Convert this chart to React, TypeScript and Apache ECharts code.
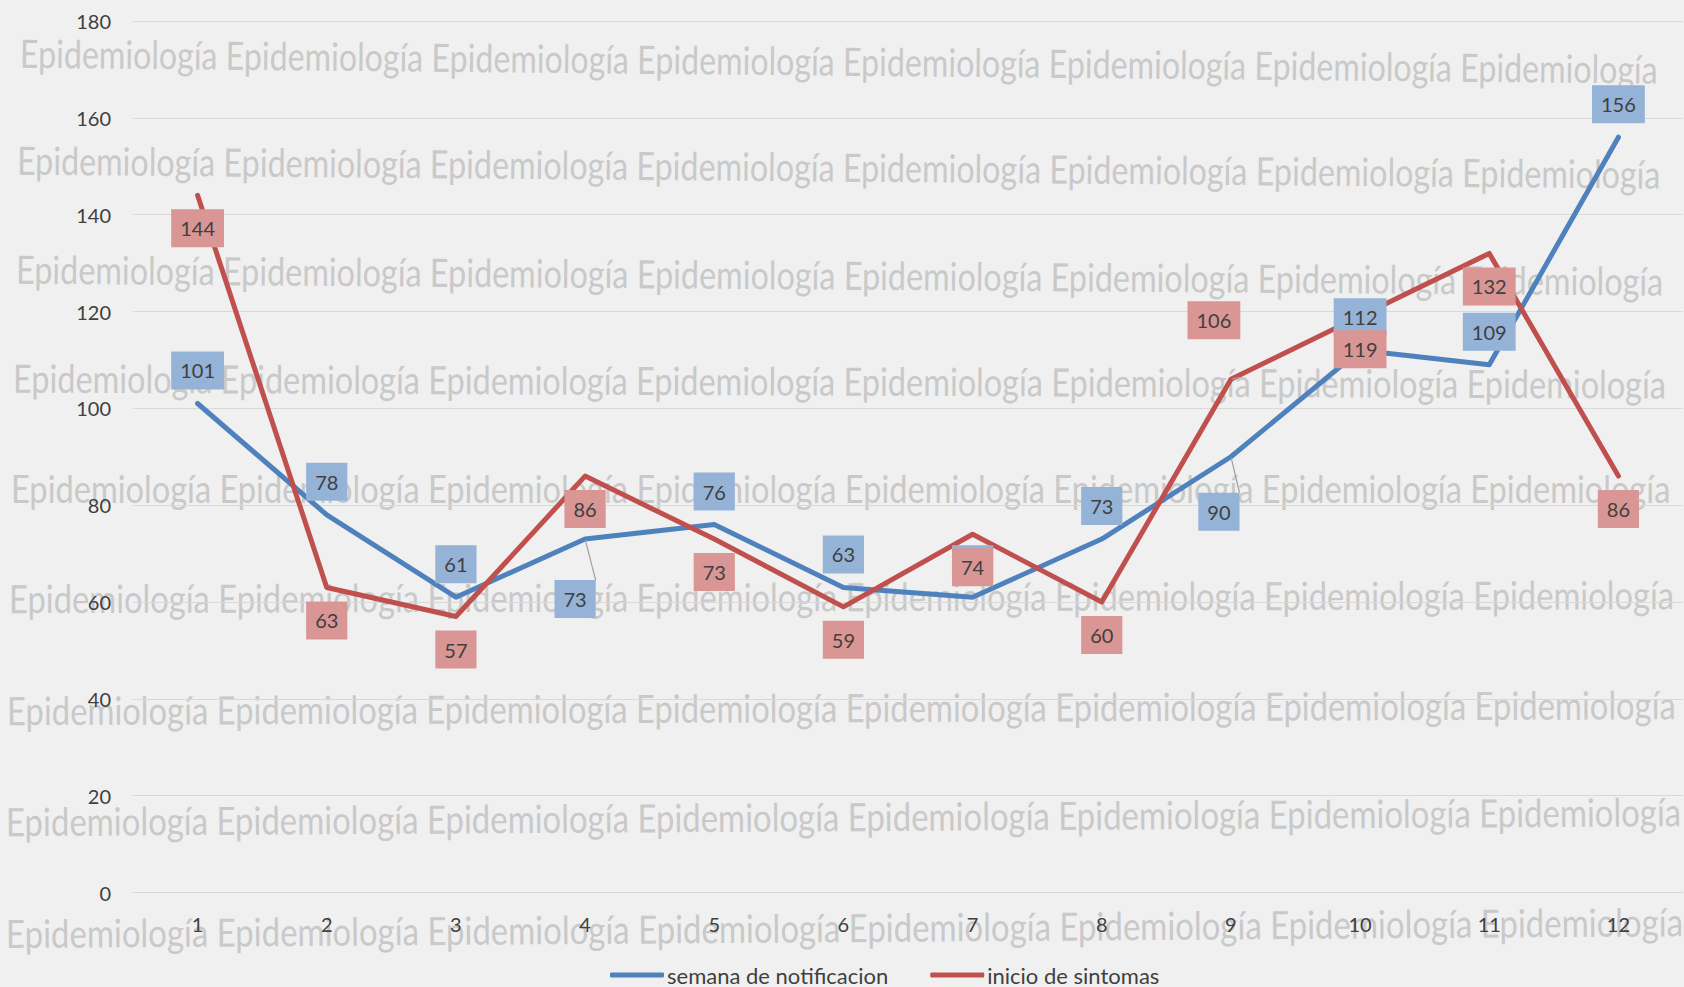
import React, { useEffect, useRef } from "react";
import * as echarts from "echarts";

// ---- data ----
const categories = ["1", "2", "3", "4", "5", "6", "7", "8", "9", "10", "11", "12"];
const semanaNotificacion = [101, 78, 61, 73, 76, 63, 61, 73, 90, 112, 109, 156];
const inicioSintomas = [144, 63, 57, 86, 73, 59, 74, 60, 106, 119, 132, 86];
const seriesNames = ["semana de notificacion", "inicio de sintomas"];
const yMin = 0;
const yMax = 180;
const yInterval = 20;
const watermarkWord = "Epidemiología";

// ---- label placement (style) ----
const notifLabelPos = ["top", "top", "top", "bottom", "top", "top", "top", "top", "bottom", "top", "top", "top"];
const notifLabelShift: Record<number, number[]> = { 3: [-10, 27], 8: [-12, 22] };
const sintLabelPos = ["bottom", "bottom", "bottom", "bottom", "bottom", "bottom", "bottom", "bottom", "top", "bottom", "bottom", "bottom"];
const sintLabelShift: Record<number, number[]> = { 8: [-17, -26] };

// ---- watermark rows layout: [startX, startY, endX, endY] ----
const watermarkRows = [
  [20, 53, 1657, 69],
  [17, 160, 1661, 173],
  [16, 269, 1664, 280],
  [13, 378, 1667, 384],
  [11, 488, 1671, 488],
  [9, 598, 1674, 595],
  [7, 710, 1677, 704],
  [6, 821, 1681, 812],
  [6, 933, 1683, 922],
];

const FONT = "Lato";
const BLUE = "#4f81bd";
const RED = "#c0504d";
const BLUE_BOX = "#95b3d7";
const RED_BOX = "#d99694";

function buildItems(values: number[], pos: string[], shift: Record<number, number[]>) {
  return values.map((v, i) => {
    const item: any = {
      value: v,
      label: { position: pos[i] },
    };
    if (shift[i]) {
      item.label.offset = shift[i];
      item.labelLine = { show: true };
    }
    return item;
  });
}

export default function App() {
  const ref = useRef<HTMLDivElement>(null);

  useEffect(() => {
    if (!ref.current) return;
    const chart = echarts.init(ref.current, undefined, { renderer: "svg" });

    const wmFontSize = 39;
    const rowText = Array(8).fill(watermarkWord).join(" ");
    const ctx = document.createElement("canvas").getContext("2d")!;
    ctx.font = `${wmFontSize}px ${FONT}`;
    const measured = ctx.measureText(rowText).width || 2000;

    const graphics = watermarkRows.map(([x0, y0, x1, y1]) => {
      const len = Math.hypot(x1 - x0, y1 - y0);
      return {
        type: "text",
        x: x0,
        y: y0,
        rotation: -Math.atan2(y1 - y0, x1 - x0),
        scaleX: len / measured,
        z: -10,
        silent: true,
        style: {
          text: rowText,
          fontFamily: FONT,
          fontSize: wmFontSize,
          fill: "#c9c9c9",
          align: "left",
          verticalAlign: "middle",
        },
      };
    });

    const labelCommon = {
      show: true,
      distance: 13,
      color: "#404040",
      fontFamily: FONT,
      fontSize: 20,
      lineHeight: 20,
      padding: [9, 9, 9, 9],
    };

    chart.setOption({
      animation: false,
      backgroundColor: "#f0f0f0",
      textStyle: { fontFamily: FONT },
      graphic: graphics,
      grid: {
        left: 133,
        right: 1,
        top: 21,
        bottom: 94.5,
        outerBoundsMode: "none",
      },
      legend: {
        data: seriesNames,
        left: 610,
        top: 963,
        padding: 0,
        icon: "roundRect",
        itemWidth: 54,
        itemHeight: 5,
        itemGap: 42,
        textStyle: { fontFamily: FONT, fontSize: 22, lineHeight: 24, color: "#404040", padding: [0, 0, 0, -2] },
      },
      xAxis: {
        type: "category",
        data: categories,
        boundaryGap: true,
        axisLine: { show: true, lineStyle: { color: "#d9d9d9", width: 1 } },
        axisTick: { show: false },
        axisLabel: { color: "#404040", fontFamily: FONT, fontSize: 20, margin: 21 },
        splitLine: { show: false },
      },
      yAxis: {
        type: "value",
        min: yMin,
        max: yMax,
        interval: yInterval,
        axisLine: { show: false },
        axisTick: { show: false },
        axisLabel: { color: "#404040", fontFamily: FONT, fontSize: 20, margin: 22 },
        splitLine: { show: true, lineStyle: { color: "#d9d9d9", width: 1 } },
      },
      series: [
        {
          name: seriesNames[0],
          type: "line",
          data: buildItems(semanaNotificacion, notifLabelPos, notifLabelShift),
          symbol: "circle",
          symbolSize: 2,
          showSymbol: true,
          itemStyle: { color: BLUE },
          lineStyle: { color: BLUE, width: 5, cap: "round", join: "round" },
          label: { ...labelCommon, backgroundColor: BLUE_BOX },
          labelLine: { show: false, showAbove: true, lineStyle: { color: "#a0a0a0", width: 1.2 } },
        },
        {
          name: seriesNames[1],
          type: "line",
          data: buildItems(inicioSintomas, sintLabelPos, sintLabelShift),
          symbol: "circle",
          symbolSize: 2,
          showSymbol: true,
          itemStyle: { color: RED },
          lineStyle: { color: RED, width: 5, cap: "round", join: "round" },
          label: { ...labelCommon, backgroundColor: RED_BOX },
          labelLine: { show: false, showAbove: true, lineStyle: { color: "#a0a0a0", width: 1.2 } },
        },
      ],
    });

    return () => chart.dispose();
  }, []);

  return (
    <div
      ref={ref}
      style={{ position: "absolute", left: 0, top: 0, width: 1684, height: 987 }}
    />
  );
}
